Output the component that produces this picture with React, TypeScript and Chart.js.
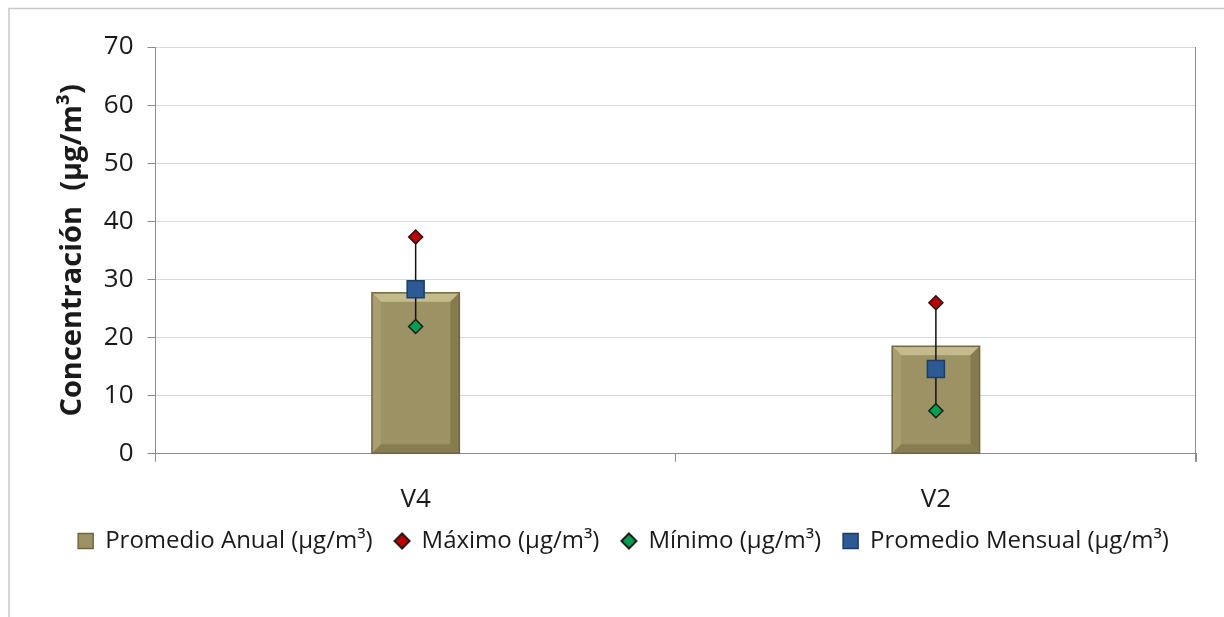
import React, { useEffect, useRef } from "react";
import { Chart, registerables } from "chart.js";

Chart.register(...registerables);

const categories = ["V4", "V2"];
const promedioAnual = [27.7, 18.5];
const maximo = [37.3, 26.0];
const minimo = [21.9, 7.4];
const promedioMensual = [28.3, 14.6];
const yTicks = [0, 10, 20, 30, 40, 50, 60, 70];

const FONT = "'Open Sans', Lato, sans-serif";

function diamondIcon(fill: string) {
  const c = document.createElement("canvas");
  c.width = 18;
  c.height = 18;
  const g = c.getContext("2d")!;
  g.beginPath();
  g.moveTo(9, 1.5);
  g.lineTo(16.5, 9);
  g.lineTo(9, 16.5);
  g.lineTo(1.5, 9);
  g.closePath();
  g.fillStyle = fill;
  g.fill();
  g.strokeStyle = "#1a1a1a";
  g.lineWidth = 2;
  g.stroke();
  return c;
}

const framePlugin = {
  id: "frame",
  afterLayout(chart: any) {
    // let x-axis labels draw below the (shrunk) axis box without clipping
    chart.scales.x.bottom += 45;
  },
  beforeDraw(chart: any) {
    const ctx = chart.ctx;
    ctx.save();
    ctx.fillStyle = "#ffffff";
    ctx.fillRect(0, 0, chart.width, chart.height);
    ctx.strokeStyle = "#c8c8c8";
    ctx.lineWidth = 1.5;
    ctx.strokeRect(9, 8.5, chart.width + 20, chart.height + 20);
    ctx.restore();
  },
  afterDraw(chart: any) {
    const { ctx, chartArea } = chart;
    ctx.save();
    ctx.strokeStyle = "#8c8c8c";
    ctx.lineWidth = 1;
    ctx.beginPath();
    ctx.moveTo(Math.round(chartArea.right) - 0.5, chartArea.top);
    ctx.lineTo(Math.round(chartArea.right) - 0.5, chartArea.bottom + 8);
    ctx.stroke();
    ctx.restore();
  },
};

const bevelPlugin = {
  id: "bevel",
  afterDatasetDraw(chart: any, args: any) {
    if (args.index !== 0) return;
    const ctx = chart.ctx;
    const meta = chart.getDatasetMeta(0);
    const b = 9;
    meta.data.forEach((bar: any) => {
      const l = bar.x - bar.width / 2;
      const r = bar.x + bar.width / 2;
      const t = bar.y;
      const btm = bar.base;
      ctx.save();
      ctx.fillStyle = "#c4bb8c";
      ctx.beginPath();
      ctx.moveTo(l, t);
      ctx.lineTo(r, t);
      ctx.lineTo(r - b, t + b);
      ctx.lineTo(l + b, t + b);
      ctx.closePath();
      ctx.fill();
      ctx.fillStyle = "#a89e6e";
      ctx.beginPath();
      ctx.moveTo(l, t);
      ctx.lineTo(l + b, t + b);
      ctx.lineTo(l + b, btm - b);
      ctx.lineTo(l, btm);
      ctx.closePath();
      ctx.fill();
      ctx.fillStyle = "#857b4e";
      ctx.beginPath();
      ctx.moveTo(r, t);
      ctx.lineTo(r - b, t + b);
      ctx.lineTo(r - b, btm - b);
      ctx.lineTo(r, btm);
      ctx.closePath();
      ctx.fill();
      ctx.fillStyle = "#877d50";
      ctx.beginPath();
      ctx.moveTo(l, btm);
      ctx.lineTo(l + b, btm - b);
      ctx.lineTo(r - b, btm - b);
      ctx.lineTo(r, btm);
      ctx.closePath();
      ctx.fill();
      ctx.strokeStyle = "#6f673e";
      ctx.lineWidth = 1.5;
      ctx.strokeRect(l, t, r - l, btm - t);
      ctx.restore();
    });
  },
};

const whiskerPlugin = {
  id: "whisker",
  afterDatasetDraw(chart: any, args: any) {
    if (args.index !== 0) return;
    const ctx = chart.ctx;
    const maxMeta = chart.getDatasetMeta(1);
    const minMeta = chart.getDatasetMeta(2);
    ctx.save();
    ctx.strokeStyle = "#111111";
    ctx.lineWidth = 1.5;
    maxMeta.data.forEach((pt: any, i: number) => {
      const lo = minMeta.data[i];
      ctx.beginPath();
      ctx.moveTo(pt.x, pt.y);
      ctx.lineTo(lo.x, lo.y);
      ctx.stroke();
    });
    ctx.restore();
  },
};

export default function App() {
  const ref = useRef<HTMLCanvasElement | null>(null);

  useEffect(() => {
    if (!ref.current) return;
    const redIcon = diamondIcon("#c00000");
    const greenIcon = diamondIcon("#00a050");
    const chart = new Chart(ref.current, {
      type: "bar",
      data: {
        labels: categories,
        datasets: [
          {
            type: "bar",
            label: "Promedio Anual (µg/m³)",
            data: promedioAnual,
            backgroundColor: "#9c9263",
            borderColor: "#6f673e",
            borderWidth: 0,
            barPercentage: 0.168,
            categoryPercentage: 1,
            pointStyle: "rect",
            order: 10,
          } as any,
          {
            type: "line",
            label: "Máximo (µg/m³)",
            data: maximo,
            showLine: false,
            pointStyle: "rectRot",
            pointRadius: 7,
            pointBackgroundColor: "#c00000",
            pointBorderColor: "#1a1a1a",
            pointBorderWidth: 1.5,
            backgroundColor: "#c00000",
            borderColor: "#1a1a1a",
            order: 1,
          } as any,
          {
            type: "line",
            label: "Mínimo (µg/m³)",
            data: minimo,
            showLine: false,
            pointStyle: "rectRot",
            pointRadius: 7,
            pointBackgroundColor: "#00a050",
            pointBorderColor: "#1a1a1a",
            pointBorderWidth: 1.5,
            backgroundColor: "#00a050",
            borderColor: "#1a1a1a",
            order: 1,
          } as any,
          {
            type: "line",
            label: "Promedio Mensual (µg/m³)",
            data: promedioMensual,
            showLine: false,
            pointStyle: "rect",
            pointRadius: 12,
            pointBackgroundColor: "#2c5a94",
            pointBorderColor: "#1c3c66",
            pointBorderWidth: 1.5,
            backgroundColor: "#2c5a94",
            borderColor: "#1c3c66",
            order: 0,
          } as any,
        ],
      },
      options: {
        animation: false,
        responsive: true,
        maintainAspectRatio: false,
        layout: { padding: { left: 51, right: 28, top: 47, bottom: 54 } },
        plugins: {
          tooltip: { enabled: false },
          legend: {
            position: "bottom",
            labels: {
              usePointStyle: true,
              boxWidth: 15,
              boxHeight: 15,
              padding: 22,
              color: "#1a1a1a",
              font: { family: FONT, size: 24 },
              sort: (a: any, b: any) => a.datasetIndex - b.datasetIndex,
              generateLabels: (ch: any) => {
                const items = Chart.defaults.plugins.legend.labels.generateLabels(ch);
                return items.map((it: any) => {
                  if (it.datasetIndex === 0) {
                    return { ...it, fillStyle: "#9c9263", strokeStyle: "#6f673e", lineWidth: 1.5, pointStyle: "rect" };
                  }
                  if (it.datasetIndex === 1) return { ...it, pointStyle: redIcon };
                  if (it.datasetIndex === 2) return { ...it, pointStyle: greenIcon };
                  return it;
                });
              },
            },
          },
        },
        scales: {
          x: {
            offset: true,
            afterFit: (scale: any) => {
              scale.height -= 30;
            },
            grid: {
              offset: true,
              drawOnChartArea: false,
              drawTicks: true,
              tickLength: 8,
              color: "#8c8c8c",
            },
            border: { color: "#8c8c8c" },
            ticks: {
              color: "#1a1a1a",
              padding: 22,
              font: { family: FONT, size: 26 },
            },
          },
          y: {
            min: 0,
            max: 70,
            afterBuildTicks: (axis: any) => {
              axis.ticks = yTicks.map((v) => ({ value: v }));
            },
            grid: {
              color: "#d9d9d9",
              tickColor: "#8c8c8c",
              tickLength: 8,
            },
            border: { color: "#8c8c8c" },
            ticks: {
              color: "#1a1a1a",
              padding: 14,
              font: { family: FONT, size: 26 },
            },
            title: {
              display: true,
              text: "Concentración  (µg/m³)",
              color: "#1a1a1a",
              padding: { bottom: 0 },
              font: { family: FONT, size: 29, weight: "bold" },
            },
          },
        },
      },
      plugins: [framePlugin, bevelPlugin, whiskerPlugin],
    });
    return () => chart.destroy();
  }, []);

  return (
    <div style={{ position: "fixed", left: 0, top: 0, width: 1224, height: 617 }}>
      <canvas ref={ref} />
    </div>
  );
}
